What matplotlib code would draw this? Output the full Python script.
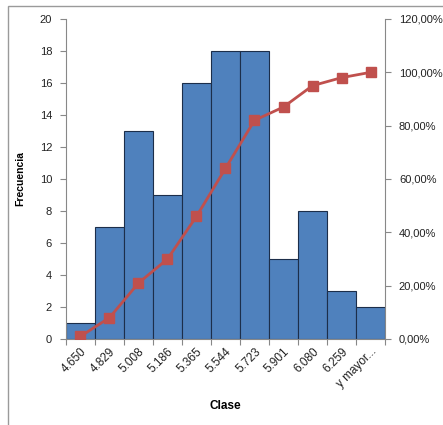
import numpy as np
import matplotlib.pyplot as plt
from matplotlib.patches import Rectangle
from matplotlib.ticker import FuncFormatter

clases = ['4.650', '4.829', '5.008', '5.186', '5.365', '5.544', '5.723',
          '5.901', '6.080', '6.259', 'y mayor...']
frecuencia = [1, 7, 13, 9, 16, 18, 18, 5, 8, 3, 2]
acumulado = [1.0, 8.0, 21.0, 30.0, 46.0, 64.0, 82.0, 87.0, 95.0, 98.0, 100.0]  # %

plt.rcParams['font.family'] = ['Liberation Sans', 'DejaVu Sans']
axis_gray = '#888888'

fig = plt.figure(figsize=(4.43, 4.25), dpi=100)
# outer chart frame
fig.patches.append(Rectangle((8 / 443, -0.05), 1.0, 1 - 6 / 425 + 0.05,
                             transform=fig.transFigure, fill=False,
                             edgecolor='#9a9a9a', linewidth=1.0))

ax = fig.add_axes([66 / 443, 1 - 339 / 425, 319 / 443, 320 / 425])
x = np.arange(len(clases))
ax.bar(x, frecuencia, width=1.0, color='#4F81BD', edgecolor='#1c2e4a',
       linewidth=0.8, zorder=2)
ax.set_xlim(-0.5, len(clases) - 0.5)
ax.set_ylim(0, 20)
ax.set_yticks(range(0, 21, 2))

# category ticks fall between bars, labels at centres
ax.set_xticks(np.arange(-0.5, len(clases) + 0.5, 1))
ax.set_xticklabels([])
ax.set_xticks(x, minor=True)
ax.set_xticklabels(clases, minor=True, rotation=45, ha='right',
                   rotation_mode='anchor', fontsize=8.5, color='#222222')
ax.tick_params(axis='x', which='minor', length=0, pad=5)
ax.tick_params(axis='x', which='major', length=4, color=axis_gray)
ax.tick_params(axis='y', length=4, color=axis_gray, labelsize=8,
               labelcolor='#222222', pad=6)

for side in ['top', 'right']:
    ax.spines[side].set_visible(False)
for side in ['left', 'bottom']:
    ax.spines[side].set_color(axis_gray)

ax.set_ylabel('Frecuencia', fontsize=7.5, fontweight='bold', labelpad=10)
ax.set_xlabel('Clase', fontsize=8.5, fontweight='bold', labelpad=7)

ax2 = ax.twinx()
ax2.plot(x, np.array(acumulado) / 100, color='#C0504D', linewidth=2,
         marker='s', markersize=6.5, zorder=3)
ax2.set_ylim(0, 1.2)
ax2.set_yticks(np.arange(0, 1.21, 0.2))
ax2.yaxis.set_major_formatter(FuncFormatter(
    lambda v, p: ('%.2f%%' % (v * 100)).replace('.', ',')))
ax2.tick_params(axis='y', length=4, color=axis_gray, labelsize=8,
                labelcolor='#222222', pad=6)
for side in ['top', 'left', 'bottom']:
    ax2.spines[side].set_visible(False)
ax2.spines['right'].set_color(axis_gray)

fig.savefig('out.png', dpi=100)
